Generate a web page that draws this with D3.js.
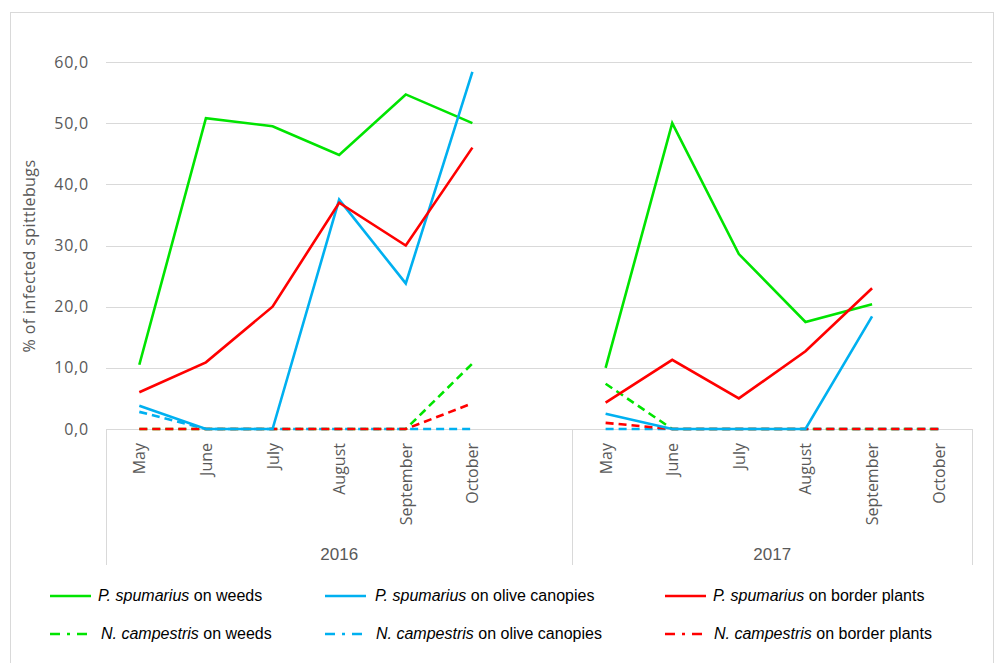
<!DOCTYPE html>
<html>
<head>
<meta charset="utf-8">
<script src="https://d3js.org/d3.v7.min.js"></script>
<style>
  body { margin: 0; background: #fff; }
  svg text { fill: #595959; }
</style>
</head>
<body>
<div id="chart"></div>
<script>
// data (null = no point)
var years = ['2016', '2017'];
var months = ['May', 'June', 'July', 'August', 'September', 'October'];
var tickValues = [0, 10, 20, 30, 40, 50, 60];

var pWeeds2016 = [10.5, 50.8, 49.5, 44.8, 54.7, 50.0];
var pWeeds2017 = [10.0, 50.0, 28.6, 17.5, 20.4, null];
var pOlive2016 = [3.8, 0, 0, 37.5, 23.8, 58.4];
var pOlive2017 = [2.5, 0, 0, 0, 18.4, null];
var pBorder2016 = [6.0, 10.9, 20.0, 37.0, 30.0, 46.0];
var pBorder2017 = [4.3, 11.3, 5.0, 12.7, 23.0, null];
var nWeeds2016 = [0, 0, 0, 0, 0, 10.7];
var nWeeds2017 = [7.4, 0, 0, 0, 0, 0];
var nOlive2016 = [2.8, 0, 0, 0, 0, 0];
var nOlive2017 = [0, 0, 0, 0, 0, 0];
var nBorder2016 = [0, 0, 0, 0, 0, 4.2];
var nBorder2017 = [1.0, 0, 0, 0, 0, 0];

var series = [
    {sp: 'N. campestris', host: ' on weeds', color: '#00e400', dash: true, v16: nWeeds2016, v17: nWeeds2017},
    {sp: 'N. campestris', host: ' on olive canopies', color: '#00b0f0', dash: true, v16: nOlive2016, v17: nOlive2017},
    {sp: 'N. campestris', host: ' on border plants', color: '#ff0000', dash: true, v16: nBorder2016, v17: nBorder2017},
    {sp: 'P. spumarius', host: ' on weeds', color: '#00e400', dash: false, v16: pWeeds2016, v17: pWeeds2017},
    {sp: 'P. spumarius', host: ' on olive canopies', color: '#00b0f0', dash: false, v16: pOlive2016, v17: pOlive2017},
    {sp: 'P. spumarius', host: ' on border plants', color: '#ff0000', dash: false, v16: pBorder2016, v17: pBorder2017}
];

var width = 1004, height = 663;
var plotLeft = 106, plotRight = 972, plotTop = 62, plotBottom = 429;

var svg = d3.select('#chart').append('svg').attr('width', width).attr('height', height);

// outer border
svg.append('rect').attr('x', 10.5).attr('y', 12.5).attr('width', 983).attr('height', 660)
    .attr('fill', 'none').attr('stroke', '#d9d9d9');

// categories: 6 months + one empty slot for 2016, then 6 months for 2017
var keys = [];
months.forEach(function(m) { keys.push('2016|' + m); });
keys.push('2016|');
months.forEach(function(m) { keys.push('2017|' + m); });

var x = d3.scaleBand().domain(keys).range([plotLeft, plotRight]).padding(0);
var cx = function(k) { return x(k) + x.bandwidth() / 2; };
var y = d3.scaleLinear().domain([0, 60]).range([plotBottom, plotTop]);

// gridlines
svg.append('g').selectAll('line').data(tickValues.slice(1)).enter().append('line')
    .attr('x1', plotLeft).attr('x2', plotRight)
    .attr('y1', function(d) { return Math.round(y(d)) + 0.5; })
    .attr('y2', function(d) { return Math.round(y(d)) + 0.5; })
    .attr('stroke', '#d9d9d9').attr('stroke-width', 1);

// y tick labels
var fmt = function(d) { return d3.format('.1f')(d).replace('.', ','); };
svg.append('g').selectAll('text').data(tickValues).enter().append('text')
    .attr('x', 89).attr('y', function(d) { return y(d); })
    .attr('dy', '0.35em').attr('text-anchor', 'end')
    .style('font-family', 'Open Sans, sans-serif').style('font-size', '16px')
    .style('letter-spacing', '0.8px')
    .text(fmt);

svg.append('text')
    .attr('transform', 'translate(35,256) rotate(-90)')
    .attr('text-anchor', 'middle')
    .style('font-family', 'Open Sans, sans-serif').style('font-size', '16px')
    .style('letter-spacing', '0.4px')
    .text('% of infected spittlebugs');

// category axis box
var axisG = svg.append('g').attr('stroke', '#d9d9d9').attr('stroke-width', 1);
axisG.append('line').attr('x1', plotLeft).attr('x2', plotRight)
    .attr('y1', plotBottom + 0.5).attr('y2', plotBottom + 0.5);
var divX = Math.round(x('2017|May')) + 0.5;
[plotLeft + 0.5, divX, plotRight + 0.5].forEach(function(xx) {
    axisG.append('line').attr('x1', xx).attr('x2', xx).attr('y1', plotBottom).attr('y2', 565);
});

// month labels
svg.append('g').selectAll('text').data(keys.filter(function(k) { return k.split('|')[1]; }))
    .enter().append('text')
    .attr('transform', function(k) { return 'translate(' + (cx(k) + 6) + ',443) rotate(-90)'; })
    .attr('text-anchor', 'end')
    .style('font-family', 'Open Sans, sans-serif').style('font-size', '16px')
    .text(function(k) { return k.split('|')[1]; });

// year labels
svg.append('text').attr('x', (plotLeft + divX) / 2).attr('y', 560).attr('text-anchor', 'middle')
    .style('font-family', 'Liberation Sans, Arial, sans-serif').style('font-size', '17px')
    .text(years[0]);
svg.append('text').attr('x', (divX + plotRight) / 2).attr('y', 560).attr('text-anchor', 'middle')
    .style('font-family', 'Liberation Sans, Arial, sans-serif').style('font-size', '17px')
    .text(years[1]);

// lines
var line = d3.line()
    .defined(function(d) { return d.v != null; })
    .x(function(d) { return cx(d.k); })
    .y(function(d) { return y(d.v); });

series.forEach(function(s) {
    var pts = [];
    months.forEach(function(m, i) { pts.push({k: '2016|' + m, v: s.v16[i]}); });
    pts.push({k: '2016|', v: null});
    months.forEach(function(m, i) { pts.push({k: '2017|' + m, v: s.v17[i]}); });
    svg.append('path').datum(pts)
        .attr('d', line)
        .attr('fill', 'none')
        .attr('stroke', s.color)
        .attr('stroke-width', 2.6)
        .attr('stroke-dasharray', s.dash ? '8,5' : null);
});

// legend
var legendPos = [
    {lx: 50, tx: 98, ly: 596},
    {lx: 325, tx: 375, ly: 596},
    {lx: 665, tx: 713, ly: 596},
    {lx: 50, tx: 101, ly: 634},
    {lx: 325, tx: 376, ly: 634},
    {lx: 665, tx: 714, ly: 634}
];
var legendOrder = [3, 4, 5, 0, 1, 2];
legendOrder.forEach(function(si, i) {
    var s = series[si], p = legendPos[i];
    svg.append('line')
        .attr('x1', p.lx).attr('x2', p.lx + (s.dash ? 38 : 41))
        .attr('y1', p.ly).attr('y2', p.ly)
        .attr('stroke', s.color).attr('stroke-width', 2.6)
        .attr('stroke-dasharray', s.dash ? '10,7,3,7' : null);
    var t = svg.append('text').attr('x', p.tx).attr('y', p.ly + 5)
        .style('font-family', 'Liberation Sans, Arial, sans-serif')
        .style('font-size', '16px');
    t.append('tspan').style('font-style', 'italic').style('fill', '#000').text(s.sp);
    t.append('tspan').style('fill', '#000').text(s.host);
});
</script>
</body>
</html>
